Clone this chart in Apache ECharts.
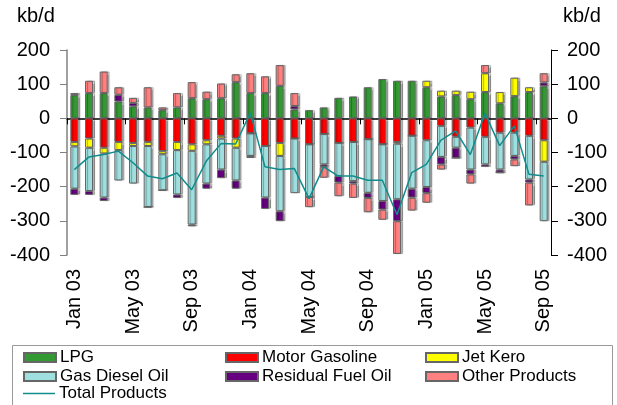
<!DOCTYPE html>
<html>
<head>
<meta charset="utf-8">
<script src="https://cdn.jsdelivr.net/npm/echarts@6/dist/echarts.min.js"></script>
<style>
  html, body { margin: 0; padding: 0; background: #fff; }
  #chart { width: 617px; height: 405px; }
</style>
</head>
<body>
<div id="chart"></div>
<script>
// months Jan 03 .. Sep 05
const months = [
  "Jan 03", "Feb 03", "Mar 03", "Apr 03", "May 03", "Jun 03", "Jul 03", "Aug 03",
  "Sep 03", "Oct 03", "Nov 03", "Dec 03", "Jan 04", "Feb 04", "Mar 04", "Apr 04",
  "May 04", "Jun 04", "Jul 04", "Aug 04", "Sep 04", "Oct 04", "Nov 04", "Dec 04",
  "Jan 05", "Feb 05", "Mar 05", "Apr 05", "May 05", "Jun 05", "Jul 05", "Aug 05", "Sep 05"
];

const lpg = [68, 74, 74, 49, 35, 32, 24, 32, 59, 56, 59, 106, 74, 74, 95, 26, 24, 32, 60, 64, 91, 115, 110, 110, 91, 64, 68, 56, 77, 44, 65, 77, 94];
const motorGasoline = [-69, -59, -86, -69, -72, -69, -96, -69, -76, -64, -51, -59, -44, -81, -72, -59, -76, -46, -72, -69, -61, -76, -69, -51, -64, -22, -54, -27, -54, -42, -42, -51, -64];
const jetKero = [-13, -27, -17, -24, -9, -12, -9, -24, -19, -12, -8, -27, 0, 0, -38, 0, 0, 0, 0, 0, 0, 0, -5, 0, 19, 17, 13, 22, 55, 33, 54, 14, -63];
const gasDiesel = [-124, -127, -129, -89, -110, -179, -106, -130, -216, -115, -91, -96, -66, -151, -162, -160, -154, -89, -97, -115, -157, -166, -163, -155, -137, -91, -32, -123, -81, -108, -68, -128, -174];
const residual = [-18, -11, -10, 20, 10, 0, 0, -10, -5, -15, -25, -24, -6, -33, -29, 10, 0, -7, -19, -7, -15, -25, -64, -26, -18, -22, -30, -14, -7, -9, -10, -9, 11];
const otherProducts = [6, 36, 63, 22, 15, 59, 8, 42, 47, 22, 43, 23, 58, 49, 61, 38, -30, -32, -40, -42, -42, -30, -96, -38, -28, -15, 0, -27, 24, 0, -20, -67, 27];
const totalProducts = [-150, -113, -106, -96, -130, -169, -177, -160, -209, -125, -74, -75, 16, -142, -150, -147, -235, -142, -169, -169, -181, -181, -282, -159, -135, -64, -37, -106, 15, -80, -22, -164, -169];

const FONT = "Liberation Sans";
const TEAL = "#108c8c";

const chart = echarts.init(document.getElementById("chart"));

function barSeries(name, data, color) {
  return {
    name: name,
    type: "bar",
    stack: "total",
    barWidth: 8,
    data: data,
    itemStyle: {
      color: color,
      borderColor: "#666",
      borderWidth: 1,
      shadowColor: "rgba(0,0,0,0.3)",
      shadowOffsetX: 2,
      shadowOffsetY: 0,
      shadowBlur: 1
    }
  };
}

function legendItem(name, left, top) {
  return {
    data: [name],
    left: left,
    top: top,
    icon: "rect",
    itemWidth: 32,
    itemHeight: 9,
    itemGap: 0,
    padding: 0,
    itemStyle: { shadowBlur: 0, shadowOffsetX: 0, shadowColor: "transparent" },
    textStyle: { fontFamily: FONT, fontSize: 17, color: "#000", padding: [0, 0, 0, -1] }
  };
}

const lineLegend = legendItem("Total Products", 23, 385);
lineLegend.itemHeight = 1.5;
lineLegend.itemStyle = { color: TEAL, borderWidth: 0 };

const option = {
  animation: false,
  grid: { left: 67, right: 66, top: 50, bottom: 150 },
  legend: [
    legendItem("LPG", 23, 349),
    legendItem("Motor Gasoline", 225, 349),
    legendItem("Jet Kero", 425, 349),
    legendItem("Gas Diesel Oil", 23, 368),
    legendItem("Residual Fuel Oil", 225, 368),
    legendItem("Other Products", 425, 368),
    lineLegend
  ],
  graphic: [
    {
      type: "rect",
      left: 10, top: 343,
      shape: { width: 600, height: 60 },
      style: { fill: "none", stroke: "#999", lineWidth: 1 }
    },
    {
      type: "text", left: 17, top: 6,
      style: { text: "kb/d", font: "20px " + FONT, fill: "#000" }
    },
    {
      type: "text", left: 563, top: 6,
      style: { text: "kb/d", font: "20px " + FONT, fill: "#000" }
    }
  ],
  xAxis: [
    {
      type: "category",
      data: months,
      position: "bottom",
      axisLine: { onZero: true, onZeroAxisIndex: 0, lineStyle: { color: "#000", width: 1.5 } },
      axisTick: { show: true, interval: 3, length: 6, lineStyle: { color: "#000" } },
      axisLabel: { show: false }
    },
    {
      type: "category",
      data: months,
      position: "bottom",
      axisLine: { show: false, onZero: false },
      axisTick: { show: false },
      axisLabel: {
        interval: 3,
        rotate: 90,
        margin: 14,
        fontFamily: FONT,
        fontSize: 20,
        color: "#000"
      }
    }
  ],
  yAxis: [
    {
      type: "value",
      min: -400, max: 200, interval: 100,
      position: "left",
      splitLine: { show: false },
      axisLine: { show: true, lineStyle: { color: "#808080", width: 1.5 } },
      axisTick: { show: true, length: 7, lineStyle: { color: "#808080" } },
      axisLabel: { margin: 17, fontFamily: FONT, fontSize: 20, color: "#000" }
    },
    {
      type: "value",
      min: -400, max: 200, interval: 100,
      position: "right",
      splitLine: { show: false },
      axisLine: { show: true, lineStyle: { color: "#000", width: 1 } },
      axisTick: { show: true, length: 7, lineStyle: { color: "#000" } },
      axisLabel: { margin: 16, fontFamily: FONT, fontSize: 20, color: "#000" }
    }
  ],
  series: [
    barSeries("LPG", lpg, "#339933"),
    barSeries("Motor Gasoline", motorGasoline, "#ff0000"),
    barSeries("Jet Kero", jetKero, "#ffff00"),
    barSeries("Gas Diesel Oil", gasDiesel, "#a0dfdf"),
    barSeries("Residual Fuel Oil", residual, "#660080"),
    barSeries("Other Products", otherProducts, "#ff8080"),
    {
      name: "Total Products",
      type: "line",
      data: totalProducts,
      symbol: "none",
      z: 10,
      lineStyle: { color: TEAL, width: 1.5 },
      itemStyle: { color: TEAL }
    }
  ]
};

chart.setOption(option);
</script>
</body>
</html>
